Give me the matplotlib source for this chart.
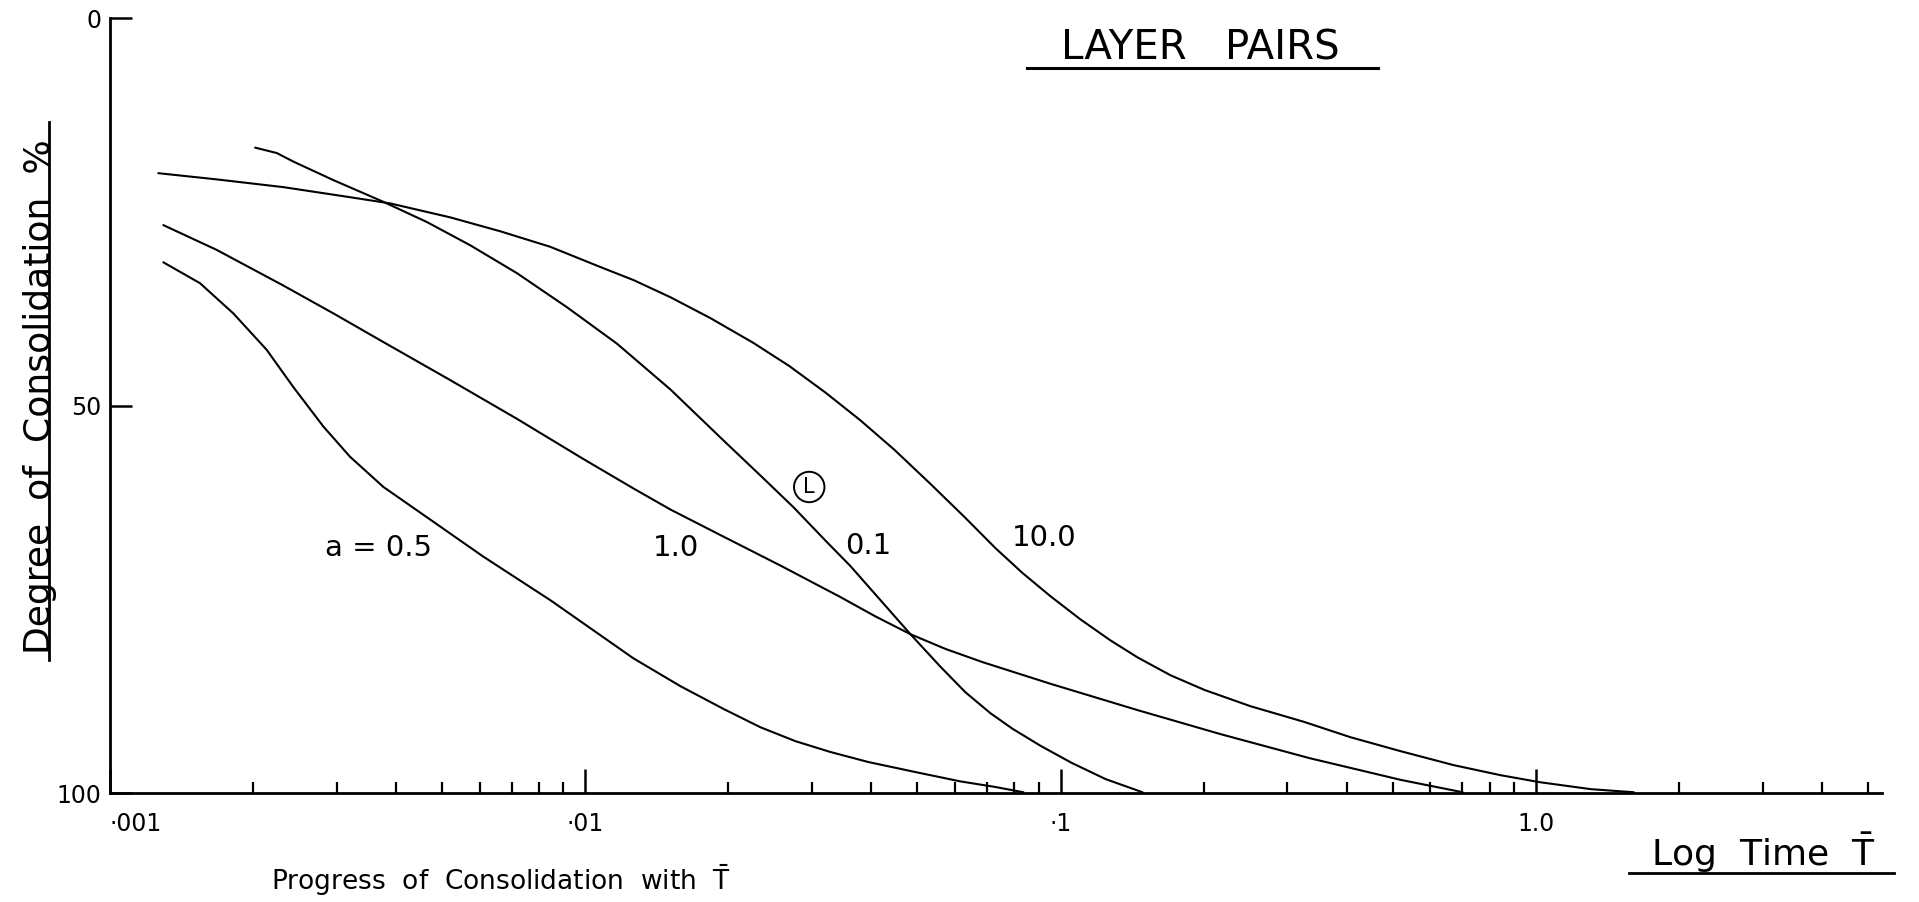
import numpy as np
import matplotlib
matplotlib.use("Agg")
import matplotlib.pyplot as plt
from matplotlib.ticker import LogLocator, NullFormatter, FixedLocator, FixedFormatter

# Degree of consolidation (%) against time factor T
t_05 = [0.001295, 0.001547, 0.001818, 0.002137, 0.002431, 0.002812, 0.003200,
        0.003762, 0.004642, 0.006107, 0.008440, 0.01262, 0.01585, 0.01962,
        0.02335, 0.02767, 0.03279, 0.03943, 0.05048, 0.06160, 0.07263, 0.08357]
u_05 = [31.5, 34.2, 38.1, 42.8, 47.6, 52.7, 56.6, 60.5, 64.4, 69.5, 75.1,
        82.6, 86.2, 89.2, 91.5, 93.3, 94.7, 96.0, 97.4, 98.5, 99.2, 99.9]

t_10 = [0.001295, 0.001677, 0.002316, 0.002953, 0.003762, 0.005197, 0.007182,
        0.009917, 0.01264, 0.01510, 0.01924, 0.02586, 0.03441, 0.04078, 0.04833,
        0.05727, 0.06852, 0.09526, 0.1453, 0.2172, 0.3343, 0.5197, 0.7018]
u_10 = [26.7, 29.9, 34.5, 38.1, 41.8, 46.7, 51.7, 56.9, 60.7, 63.4, 66.7,
        70.7, 74.7, 77.2, 79.5, 81.4, 83.1, 85.9, 89.3, 92.4, 95.5, 98.3, 99.9]

t_01 = [0.002020, 0.002244, 0.002431, 0.002953, 0.003762, 0.004642, 0.005726,
        0.007182, 0.009152, 0.01166, 0.01510, 0.01962, 0.02335, 0.02741, 0.03200,
        0.03613, 0.04179, 0.04833, 0.05590, 0.06310, 0.07122, 0.07923, 0.09076,
        0.1055, 0.1244, 0.1488]
u_01 = [16.7, 17.4, 18.5, 20.9, 23.7, 26.3, 29.3, 32.9, 37.3, 42.0, 47.9,
        54.6, 59.0, 63.1, 67.4, 70.7, 75.1, 79.5, 83.7, 87.0, 89.7, 91.7, 93.9,
        96.1, 98.2, 99.9]

t_100 = [0.001264, 0.001677, 0.002316, 0.003200, 0.003886, 0.005197, 0.006627,
         0.008440, 0.01075, 0.01264, 0.01510, 0.01833, 0.02258, 0.02689, 0.03200,
         0.03793, 0.04472, 0.05325, 0.06310, 0.07298, 0.08318, 0.09526, 0.1102,
         0.1274, 0.1453, 0.1704, 0.2010, 0.2512, 0.3248, 0.4077, 0.5197, 0.6719,
         0.8438, 1.0195, 1.3058, 1.608]
u_100 = [20.0, 20.8, 21.8, 23.1, 23.9, 25.7, 27.5, 29.5, 32.1, 33.8, 36.0,
         38.7, 41.9, 44.9, 48.3, 51.9, 55.7, 60.1, 64.5, 68.4, 71.6, 74.6, 77.6,
         80.3, 82.5, 84.8, 86.7, 88.8, 90.8, 92.8, 94.6, 96.4, 97.7, 98.6, 99.5,
         99.9]

x_ticks = [0.001, 0.01, 0.1, 1.0]
x_tick_labels = ["·001", "·01", "·1", "1.0"]
y_ticks = [0, 50, 100]
y_tick_labels = ["0", "50", "100"]

fig = plt.figure(figsize=(19.19, 9.02), dpi=100)
ax = fig.add_axes([0.0573, 0.1208, 0.9234, 0.859])

for t, u in [(t_05, u_05), (t_10, u_10), (t_01, u_01), (t_100, u_100)]:
    ax.plot(t, u, color="black", lw=1.5, solid_joinstyle="round",
            solid_capstyle="round")

ax.set_xscale("log")
ax.set_xlim(0.001, 5.35)
ax.set_ylim(100, 0)

for s in ["top", "right"]:
    ax.spines[s].set_visible(False)
for s in ["left", "bottom"]:
    ax.spines[s].set_linewidth(2.0)

ax.xaxis.set_major_locator(FixedLocator(x_ticks))
ax.xaxis.set_major_formatter(FixedFormatter(x_tick_labels))
ax.xaxis.set_minor_locator(LogLocator(base=10, subs=np.arange(2, 10), numticks=20))
ax.xaxis.set_minor_formatter(NullFormatter())
ax.tick_params(axis="x", which="major", direction="in", length=17, width=1.8,
               labelsize=17, pad=14)
ax.tick_params(axis="x", which="minor", direction="in", length=8, width=1.6)

ax.yaxis.set_major_locator(FixedLocator(y_ticks))
ax.yaxis.set_major_formatter(FixedFormatter(y_tick_labels))
ax.tick_params(axis="y", direction="in", length=16, width=1.8, labelsize=17, pad=6)

# the ·001 label sits to the right of the corner
fig.canvas.draw()
ax.get_xticklabels()[0].set_horizontalalignment("left")

# curve labels
ax.text(0.003665, 68.4, "a = 0.5", fontsize=21, ha="center", va="center")
ax.text(0.01555, 68.4, "1.0", fontsize=21, ha="center", va="center")
ax.text(0.0394, 68.1, "0.1", fontsize=21, ha="center", va="center")
ax.text(0.0925, 67.1, "10.0", fontsize=21, ha="center", va="center")
ax.text(0.0296, 60.5, "L", fontsize=15, ha="center", va="center",
        bbox=dict(boxstyle="circle,pad=0.25", fc="white", ec="black", lw=1.4))

# titles, hand-underlined
fig.text(0.6255, 0.9335, "LAYER   PAIRS", fontsize=29, ha="center", va="baseline")
fig.add_artist(plt.Line2D([0.535, 0.718], [0.9246, 0.9246], color="black", lw=2.2))

fig.text(0.021, 0.56, "Degree  of  Consolidation  %", fontsize=26, rotation=90,
         ha="center", va="center")
fig.add_artist(plt.Line2D([0.0255, 0.0255], [0.268, 0.865], color="black", lw=2.0))

fig.text(0.919, 0.040, r"Log  Time  $\bar{\mathrm{T}}$", fontsize=26, ha="center",
         va="baseline")
fig.add_artist(plt.Line2D([0.849, 0.987], [0.032, 0.032], color="black", lw=2.0))

fig.text(0.141, 0.004, r"Progress  of  Consolidation  with  $\bar{\mathrm{T}}$",
         fontsize=19, ha="left", va="bottom")

fig.savefig("out.png", dpi=100)
